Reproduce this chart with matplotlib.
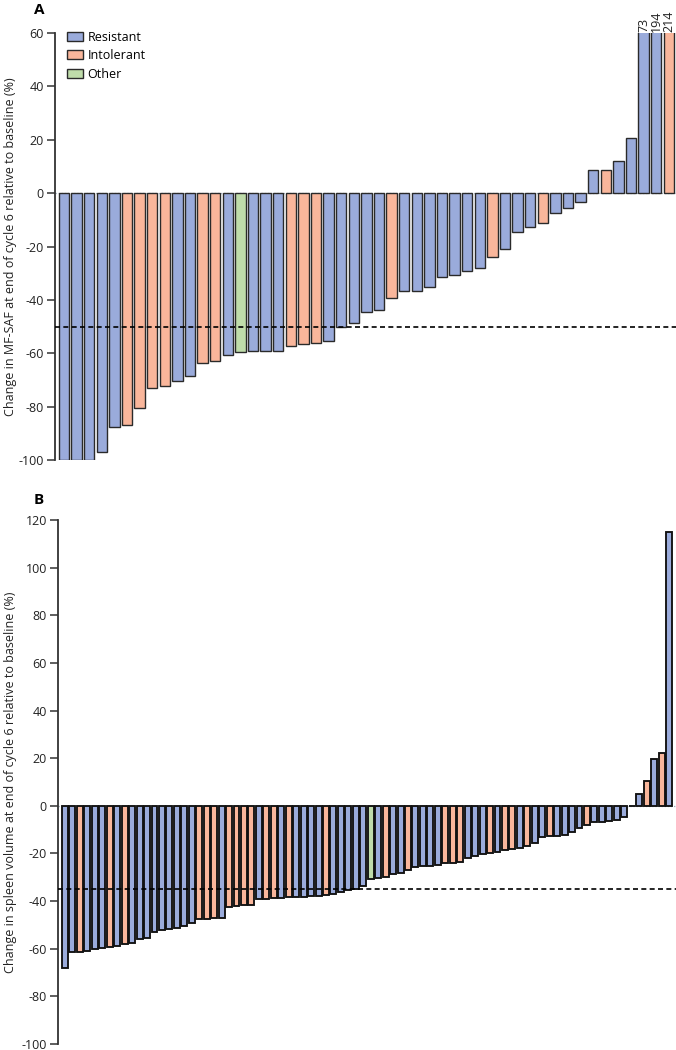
import matplotlib
matplotlib.use("Agg")
import matplotlib.pyplot as plt
from matplotlib.patches import Patch

plt.rcParams['font.family'] = ['Open Sans', 'DejaVu Sans']

# ---------------- data ----------------
group_names = {"R": "Resistant", "I": "Intolerant", "O": "Other"}
group_colors = {"R": "#9aabdb", "I": "#f9b69b", "O": "#bfdcaa"}

# Panel A: change in MF-SAF (%)
a_values = [-100, -100, -100, -97, -87.5, -87, -80.4, -72.9, -72.1, -70.5,
            -68.5, -63.6, -63, -60.6, -59.5, -59, -59, -59, -57.4, -56.5,
            -56, -55.5, -50.1, -48.5, -44.5, -43.9, -39.3, -36.5, -36.5, -35.3,
            -31.6, -30.8, -29.2, -28.1, -23.8, -21.0, -14.4, -12.8, -11.3, -7.3,
            -5.4, -3.3, 8.6, 8.6, 11.9, 20.5, 73, 194, 214]
a_groups = list("RRRRRIIIIRRIIRORRRIIIRRRRRIRRRRRRRIRRRIRRRRIRRRRI")

# Panel B: change in spleen volume (%)
b_values = [-68.2, -61.5, -61.2, -60.8, -60.2, -59.8, -59.1, -58.8, -58.1, -57.4,
            -55.9, -55.3, -52.9, -52.1, -51.7, -51.1, -50.3, -49.3, -47.6, -47.5,
            -47.2, -46.9, -42.3, -41.9, -41.8, -41.6, -39.1, -39.0, -38.9, -38.6,
            -38.4, -38.3, -38.1, -37.9, -37.8, -37.5, -37.0, -36.0, -35.5, -34.8,
            -33.5, -30.6, -30.3, -29.8, -28.6, -28.0, -26.8, -25.6, -25.3, -25.1,
            -24.8, -24.2, -23.8, -23.4, -21.8, -21.0, -20.3, -19.8, -19.2, -18.7,
            -18.2, -17.6, -16.8, -15.5, -13.2, -12.8, -12.6, -12.3, -10.8, -9.2,
            -8.0, -6.9, -6.6, -6.2, -5.9, -4.5, 0.0, 5.0, 10.5, 19.5,
            22.0, 115]
b_groups = list("RRIRRRIRIRRRRRRRRRIIIRIIIIRIIRIRRRRIRRRRROR"
                "IRRIRRRRIIIRRRIRIIRIRRIRRRRIRRRRRRRIRIR")

a_ticks = [-100, -80, -60, -40, -20, 0, 20, 40, 60]
b_ticks = [-100, -80, -60, -40, -20, 0, 20, 40, 60, 80, 100, 120]
a_threshold = -50
b_threshold = -35
a_ylabel = "Change in MF-SAF at end of cycle 6 relative to baseline (%)"
b_ylabel = "Change in spleen volume at end of cycle 6 relative to baseline (%)"

# ---------------- figure ----------------
W, H = 676, 1050
fig = plt.figure(figsize=(W / 100, H / 100), dpi=100)

def px_axes(left, top, right, bottom):
    return fig.add_axes([left / W, 1 - bottom / H, (right - left) / W, (bottom - top) / H])

axA = px_axes(55, 33, 676, 460)
axB = px_axes(58, 520, 676, 1044)

def style_axis(ax, ticks, ylabel):
    for s in ["top", "right", "bottom"]:
        ax.spines[s].set_visible(False)
    ax.spines["left"].set_linewidth(1.3)
    ax.spines["left"].set_color("#333333")
    ax.set_xticks([])
    ax.set_yticks(ticks)
    ax.set_yticklabels([str(t) for t in ticks])
    ax.tick_params(axis="y", length=6, width=1.1, color="#333333",
                   labelsize=9, labelcolor="#222222", pad=2)
    ax.set_ylim(ticks[0], ticks[-1])
    ax.set_ylabel(ylabel, fontsize=9, color="#222222")

# Panel A
xa = list(range(len(a_values)))
axA.bar(xa, a_values, width=0.83, color=[group_colors[g] for g in a_groups],
        edgecolor="#2a2a2a", linewidth=1.0, zorder=2)
axA.set_xlim(-0.71, len(a_values) - 1 + 0.57)
axA.axhline(0, color="#9aaabb", ls=(0, (1, 1.5)), lw=0.9, zorder=1)
axA.axhline(a_threshold, color="black", ls=(0, (3, 2)), lw=1.2, zorder=3)
style_axis(axA, a_ticks, a_ylabel)
for x, v in zip(xa, a_values):
    if v > a_ticks[-1]:
        axA.text(x, a_ticks[-1] + 0.5, str(v), rotation=90, ha="center", va="bottom",
                 fontsize=9, color="#222222", clip_on=False)

handles = [Patch(facecolor=group_colors[k], edgecolor="#2a2a2a", linewidth=1.0,
                 label=group_names[k]) for k in ["R", "I", "O"]]
axA.legend(handles=handles, loc="upper left", bbox_to_anchor=(67 / W, 1 - 31 / H),
           bbox_transform=fig.transFigure, frameon=False, fontsize=9,
           handlelength=1.3, handleheight=0.75, handletextpad=0.35,
           labelspacing=0.42, borderpad=0, borderaxespad=0)

# Panel B
xb = list(range(len(b_values)))
axB.bar(xb, b_values, width=0.8, color=[group_colors[g] for g in b_groups],
        edgecolor="#111111", linewidth=1.35, zorder=2)
axB.set_xlim(-0.94, len(b_values) - 1 + 0.94)
axB.axhline(0, color="#9aaabb", ls=(0, (1, 1.5)), lw=0.9, zorder=1)
axB.axhline(b_threshold, color="black", ls=(0, (3, 2)), lw=1.2, zorder=3)
style_axis(axB, b_ticks, b_ylabel)

# y-label: right edge of the rotated text at ~x=17 px
axA.yaxis.set_label_coords((17 - 55) / (676 - 55), 0.5)
axB.yaxis.set_label_coords((17 - 58) / (676 - 58), 0.5)

fig.text(39 / W, 1 - 10 / H, "A", fontsize=11, fontweight="bold", ha="center", va="center")
fig.text(39 / W, 1 - 500 / H, "B", fontsize=11, fontweight="bold", ha="center", va="center")

fig.savefig("out.png", dpi=100)
